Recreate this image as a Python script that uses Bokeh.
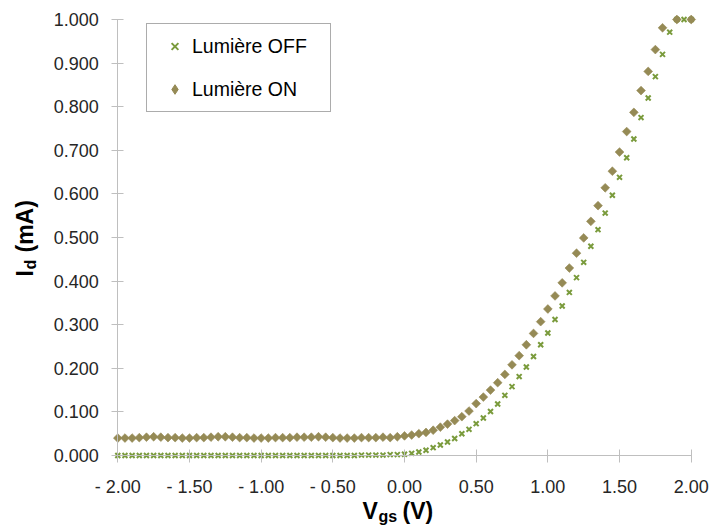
import math
from bokeh.plotting import figure
from bokeh.models import (Range1d, FixedTicker, NumeralTickFormatter, CustomJSTickFormatter,
                          Legend, LegendItem, Label, ColumnDataSource)
from bokeh.embed import file_html
from bokeh.resources import INLINE

NAN = float("nan")

# Gate-source voltage (V)
vgs = [-2.00, -1.95, -1.90, -1.85, -1.80, -1.75, -1.70, -1.65, -1.60, -1.55,
       -1.50, -1.45, -1.40, -1.35, -1.30, -1.25, -1.20, -1.15, -1.10, -1.05,
       -1.00, -0.95, -0.90, -0.85, -0.80, -0.75, -0.70, -0.65, -0.60, -0.55,
       -0.50, -0.45, -0.40, -0.35, -0.30, -0.25, -0.20, -0.15, -0.10, -0.05,
       0.00, 0.05, 0.10, 0.15, 0.20, 0.25, 0.30, 0.35, 0.40, 0.45,
       0.50, 0.55, 0.60, 0.65, 0.70, 0.75, 0.80, 0.85, 0.90, 0.95,
       1.00, 1.05, 1.10, 1.15, 1.20, 1.25, 1.30, 1.35, 1.40, 1.45,
       1.50, 1.55, 1.60, 1.65, 1.70, 1.75, 1.80, 1.85, 1.90, 1.95,
       2.00]

# Drain current, light OFF (mA)
id_off = [0.000, 0.000, 0.000, 0.000, 0.000, 0.000, 0.000, 0.000, 0.000, 0.000,
          0.000, 0.000, 0.000, 0.000, 0.000, 0.000, 0.000, 0.000, 0.000, 0.000,
          0.000, 0.000, 0.000, 0.000, 0.000, 0.000, 0.000, 0.000, 0.000, 0.000,
          0.000, 0.000, 0.000, 0.000, 0.001, 0.001, 0.001, 0.001, 0.002, 0.002,
          0.003, 0.005, 0.008, 0.012, 0.018, 0.024, 0.031, 0.039, 0.050, 0.060,
          0.073, 0.086, 0.101, 0.118, 0.138, 0.158, 0.181, 0.203, 0.227, 0.254,
          0.281, 0.312, 0.343, 0.374, 0.408, 0.443, 0.480, 0.518, 0.556, 0.597,
          0.638, 0.683, 0.726, 0.775, 0.820, 0.869, 0.920, 0.971, 1.000, 1.000,
          1.000]

# Drain current, light ON (mA); NaN = reading above the axis maximum (not shown)
id_on = [0.040, 0.040, 0.040, 0.041, 0.042, 0.043, 0.042, 0.041, 0.041, 0.040,
         0.040, 0.041, 0.041, 0.042, 0.043, 0.043, 0.042, 0.041, 0.041, 0.040,
         0.040, 0.040, 0.041, 0.041, 0.041, 0.042, 0.042, 0.042, 0.043, 0.042,
         0.041, 0.040, 0.040, 0.040, 0.041, 0.041, 0.041, 0.042, 0.041, 0.043,
         0.045, 0.047, 0.050, 0.053, 0.058, 0.065, 0.072, 0.080, 0.089, 0.102,
         0.119, 0.134, 0.150, 0.167, 0.186, 0.208, 0.229, 0.254, 0.280, 0.307,
         0.336, 0.366, 0.396, 0.430, 0.464, 0.499, 0.537, 0.573, 0.614, 0.652,
         0.696, 0.743, 0.787, 0.837, 0.881, 0.931, 0.981, NAN, 1.000, NAN,
         1.000]

x_ticks = [-2.0, -1.5, -1.0, -0.5, 0.0, 0.5, 1.0, 1.5, 2.0]
y_ticks = [0.0, 0.1, 0.2, 0.3, 0.4, 0.5, 0.6, 0.7, 0.8, 0.9, 1.0]
series_names = ["Lumière OFF", "Lumière ON"]

FONT = "Liberation Sans"
AXIS_GREY = "#bfbfbf"
OFF_COLOR = "#7a9b3c"
ON_COLOR = "#958a55"

W, H = 710, 526
# The frame spans the whole canvas; axes are pinned at x=-2 and y=0 (fixed_location),
# so markers sitting on the axes are not cut by the frame.
p = figure(width=W, height=H, output_backend="svg", toolbar_location=None, title=None,
           x_range=Range1d(-2.8183, 2.1346), y_range=Range1d(-0.16284, 1.04358),
           min_border_left=0, min_border_right=0, min_border_top=0, min_border_bottom=0)
p.outline_line_color = None
p.xgrid.visible = False
p.ygrid.visible = False
p.background_fill_color = "white"
p.border_fill_color = "white"

src = ColumnDataSource(dict(x=vgs, off=id_off, on=id_on))
r_off = p.scatter("x", "off", source=src, marker="x", size=7, line_width=2,
                  line_color=OFF_COLOR)
r_on = p.scatter("x", "on", source=src, marker="square", size=6.2, angle=math.pi / 4,
                 fill_color=ON_COLOR, line_color=ON_COLOR, line_width=0.6)
# glyph used only for the legend swatch (a single undrawn NaN point)
r_on_leg = p.scatter(x=[NAN], y=[NAN], marker="diamond", size=8.5, fill_color=ON_COLOR,
                     line_color=ON_COLOR, line_width=1)

for ax in (p.xaxis[0], p.yaxis[0]):
    ax.axis_line_color = AXIS_GREY
    ax.axis_line_width = 1
    ax.major_tick_line_color = AXIS_GREY
    ax.major_tick_in = 6
    ax.major_tick_out = 6
    ax.minor_tick_line_color = None
    ax.major_label_text_font = FONT
    ax.major_label_text_font_size = "18px"
    ax.major_label_text_color = "#262626"
    ax.axis_label = None

xa = p.xaxis[0]
xa.ticker = FixedTicker(ticks=x_ticks)
xa.fixed_location = 0.0
xa.bounds = (-2.0, 2.0)
xa.major_tick_out = 7
xa.major_label_standoff = 14
xa.formatter = CustomJSTickFormatter(code="""
const a = Math.abs(tick).toFixed(2);
return (tick < -1e-9) ? "- " + a : a;
""")

ya = p.yaxis[0]
ya.ticker = FixedTicker(ticks=y_ticks)
ya.fixed_location = -2.0
ya.bounds = (0.0, 1.0)
ya.major_label_standoff = 13
ya.formatter = NumeralTickFormatter(format="0.000")

legend = Legend(items=[LegendItem(label=series_names[0], renderers=[r_off]),
                       LegendItem(label=series_names[1], renderers=[r_on_leg])],
                location=(146, 414), padding=10, spacing=19,
                glyph_width=35, glyph_height=24, label_height=24, label_width=128,
                label_standoff=0, label_text_font=FONT, label_text_font_size="19.5px",
                label_text_color="#000000", border_line_color="#595959",
                border_line_width=1, background_fill_color="white", background_fill_alpha=1.0)
p.add_layout(legend, "center")

# screen units relative to the frame (= canvas): x from left, y from bottom.
# Anchors are the vertical middle of the text box (baseline - 0.347 * size).
def lab(text, px, py, size, angle=0.0):
    p.add_layout(Label(x=px, y=H - py, x_units="screen", y_units="screen",
                       text=text, angle=angle, text_font=FONT, text_font_size=f"{size}px",
                       text_font_style="bold", text_color="#000000",
                       text_align="left", text_baseline="middle"))

# x title: V_gs (V)   (baselines 518 / 522)
lab("V", 362, 518 - 0.347 * 23, 23)
lab("gs", 378, 522 - 0.347 * 16, 16)
lab("(V)", 402, 518 - 0.347 * 23, 23)
# y title: I_d (mA)   (rotated; baselines at x=32 / 36)
lab("I", 32 - 0.347 * 23, 276, 23, math.pi / 2)
lab("d", 36 - 0.347 * 16, 269, 16, math.pi / 2)
lab("(mA)", 32 - 0.347 * 23, 252, 23, math.pi / 2)

open("out.html", "w").write(file_html(p, INLINE))
